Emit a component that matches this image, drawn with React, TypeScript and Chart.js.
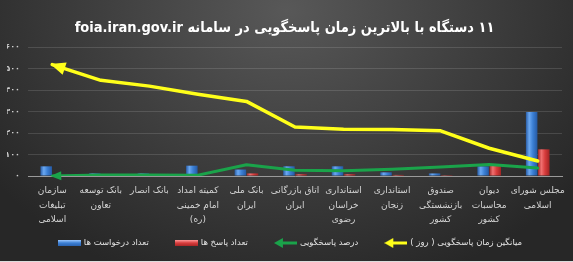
import { useEffect, useRef } from "react";
import { Chart, registerables } from "chart.js";

Chart.register(...registerables);

const FA_DIGITS = "۰۱۲۳۴۵۶۷۸۹";
const toFa = (n: number | string) => String(n).replace(/\d/g, (d) => FA_DIGITS[+d]);

const TITLE = "۱۱ دستگاه با بالاترین زمان پاسخگویی در سامانه foia.iran.gov.ir";

const categories: string[][] = [
  ["سازمان", "تبلیغات", "اسلامی"],
  ["بانک توسعه", "تعاون"],
  ["بانک انصار"],
  ["کمیته امداد", "امام خمینی", "(ره)"],
  ["بانک ملی", "ایران"],
  ["اتاق بازرگانی", "ایران"],
  ["استانداری", "خراسان", "رضوی"],
  ["استانداری", "زنجان"],
  ["صندوق", "بازنشستگی", "کشور"],
  ["دیوان", "محاسبات", "کشور"],
  ["مجلس شورای", "اسلامی"],
];

const requests = [45, 12, 12, 48, 30, 45, 45, 17, 12, 45, 298];
const responses = [0, 0, 0, 0, 12, 8, 8, 5, 4, 48, 124];
const responsePercent = [0, 5, 5, 4, 52, 27, 24, 31, 42, 54, 37];
const avgDays = [518, 445, 418, 380, 347, 228, 218, 216, 210, 129, 70];

const seriesNames = [
  "تعداد درخواست ها",
  "تعداد پاسخ ها",
  "درصد پاسخگویی",
  "میانگین زمان پاسخگویی ( روز )",
];

const yMin = 0;
const yMax = 600;
const yStep = 100;

const BLUE = "#3b7fd4";
const RED = "#d83c3c";
const GREEN = "#1aa34a";
const YELLOW = "#ffff1a";

function barSwatch(light: string, main: string, dark: string) {
  const c = document.createElement("canvas");
  c.width = 23;
  c.height = 6;
  const x = c.getContext("2d")!;
  const g = x.createLinearGradient(0, 0, 0, 6);
  g.addColorStop(0, light);
  g.addColorStop(0.5, main);
  g.addColorStop(1, dark);
  x.fillStyle = g;
  x.fillRect(0, 0, 23, 6);
  return c;
}

function arrowSwatch(color: string) {
  const c = document.createElement("canvas");
  c.width = 23;
  c.height = 10;
  const x = c.getContext("2d")!;
  x.strokeStyle = color;
  x.fillStyle = color;
  x.lineWidth = 3;
  x.beginPath();
  x.moveTo(7, 5);
  x.lineTo(23, 5);
  x.stroke();
  x.beginPath();
  x.moveTo(0, 5);
  x.lineTo(9, 0);
  x.lineTo(9, 10);
  x.closePath();
  x.fill();
  return c;
}

// cylinder-like horizontal gradient for each bar, located via the category scale
function barFill(side: number, light: string, main: string, dark: string) {
  return (c: any) => {
    const chart = c.chart;
    const xs = chart.scales?.x;
    if (!xs || c.dataIndex === undefined || !chart.chartArea) return main;
    const cx = xs.getPixelForValue(c.dataIndex);
    const w = (xs.width / categories.length) * 0.5 * 0.5;
    const x0 = side < 0 ? cx - w : cx;
    const g = chart.ctx.createLinearGradient(x0, 0, x0 + w, 0);
    g.addColorStop(0, dark);
    g.addColorStop(0.3, light);
    g.addColorStop(0.6, main);
    g.addColorStop(1, dark);
    return g;
  };
}

const backgroundPlugin = {
  id: "bg",
  beforeDraw(chart: any) {
    const { ctx, width, height } = chart;
    ctx.save();
    ctx.fillStyle = "#262626";
    ctx.fillRect(0, 0, width, height);
    ctx.translate(width / 2, 10);
    ctx.scale(1.25, 1);
    const g = ctx.createRadialGradient(0, 0, 0, 0, 0, 290);
    g.addColorStop(0, "#585858");
    g.addColorStop(0.45, "#424242");
    g.addColorStop(1, "#272727");
    ctx.fillStyle = g;
    ctx.fillRect(-width, -20, width * 2, height + 40);
    ctx.restore();
    ctx.save();
    ctx.fillStyle = "#dcdcdc";
    ctx.fillRect(0, height - 1, width, 1);
    ctx.restore();
  },
};

const arrowPlugin = {
  id: "arrowHeads",
  afterDatasetsDraw(chart: any) {
    const ctx = chart.ctx;
    chart.data.datasets.forEach((ds: any, i: number) => {
      if (ds.type !== "line") return;
      const meta = chart.getDatasetMeta(i);
      const p0 = meta.data[0];
      const p1 = meta.data[1];
      if (!p0 || !p1) return;
      const ang = Math.atan2(p0.y - p1.y, p0.x - p1.x);
      const L = ds.arrowLen || 12;
      const W = ds.arrowWidth || 12;
      ctx.save();
      ctx.translate(p0.x, p0.y);
      ctx.rotate(ang);
      ctx.fillStyle = ds.borderColor;
      ctx.beginPath();
      ctx.moveTo(2, 0);
      ctx.lineTo(-L, -W / 2);
      ctx.lineTo(-L, W / 2);
      ctx.closePath();
      ctx.fill();
      ctx.restore();
    });
  },
};

function makeLegendPlugin(swatches: HTMLCanvasElement[]) {
  return {
    id: "customLegend",
    afterDraw(chart: any) {
      const ctx = chart.ctx;
      const font = "8.5px 'DejaVu Sans'";
      const swW = 23;
      const gapText = 3;
      const gapItem = 26;
      ctx.save();
      ctx.font = font;
      const items = chart.data.datasets.map((ds: any, i: number) => ({
        text: ds.label as string,
        sw: swatches[i],
        w: swW + gapText + ctx.measureText(ds.label).width,
      }));
      const total =
        items.reduce((a: number, it: any) => a + it.w, 0) + gapItem * (items.length - 1);
      const cx = 290;
      const y = chart.chartArea.bottom + 67;
      let x = cx - total / 2;
      ctx.textBaseline = "middle";
      ctx.textAlign = "left";
      ctx.fillStyle = "#e4e4e4";
      items.forEach((it: any) => {
        ctx.drawImage(it.sw, x, Math.round(y - it.sw.height / 2));
        ctx.fillText(it.text, x + swW + gapText, y);
        x += it.w + gapItem;
      });
      ctx.restore();
    },
  };
}

export default function App() {
  const ref = useRef<HTMLCanvasElement>(null);

  useEffect(() => {
    document.body.style.margin = "0";
    const canvas = ref.current!;
    const swatches = [
      barSwatch("#9cc8ff", BLUE, "#2a62b0"),
      barSwatch("#ff9a9a", RED, "#a82626"),
      arrowSwatch(GREEN),
      arrowSwatch(YELLOW),
    ];

    const chart = new Chart(canvas, {
      type: "bar",
      data: {
        labels: categories,
        datasets: [
          {
            type: "bar",
            label: seriesNames[0],
            data: requests,
            backgroundColor: barFill(-1, "#6aa8f2", BLUE, "#2457a0"),
            categoryPercentage: 0.5,
            barPercentage: 0.95,
            order: 2,
          },
          {
            type: "bar",
            label: seriesNames[1],
            data: responses,
            backgroundColor: barFill(1, "#f07070", RED, "#9c2222"),
            categoryPercentage: 0.5,
            barPercentage: 0.95,
            order: 3,
          },
          {
            type: "line",
            label: seriesNames[2],
            data: responsePercent,
            borderColor: GREEN,
            backgroundColor: GREEN,
            borderWidth: 3,
            pointRadius: 0,
            tension: 0,
            borderCapStyle: "round",
            borderJoinStyle: "round",
            order: 1,
            arrowLen: 9,
            arrowWidth: 9,
          } as any,
          {
            type: "line",
            label: seriesNames[3],
            data: avgDays,
            borderColor: YELLOW,
            backgroundColor: YELLOW,
            borderWidth: 3.5,
            pointRadius: 0,
            tension: 0,
            borderCapStyle: "round",
            borderJoinStyle: "round",
            order: 0,
            arrowLen: 13,
            arrowWidth: 13,
          } as any,
        ],
      },
      options: {
        animation: false,
        responsive: true,
        maintainAspectRatio: false,
        layout: { padding: { left: 7, right: 11, top: 0, bottom: 29 } },
        plugins: {
          title: {
            display: true,
            text: TITLE,
            color: "#ffffff",
            font: { family: "'DejaVu Sans Condensed', 'DejaVu Sans'", size: 14.5, weight: "bold" },
            padding: { top: 20, bottom: 9.6 },
          },
          tooltip: { enabled: false },
          legend: { display: false },
        },
        scales: {
          x: {
            grid: { display: false, drawTicks: false },
            border: { display: true, color: "#9a9a9a", width: 1 },
            ticks: {
              color: "#d4d4d4",
              font: { family: "DejaVu Sans", size: 9, lineHeight: 1.65 },
              maxRotation: 0,
              autoSkip: false,
              padding: 7,
            },
            afterFit: (s: any) => {
              s.height = 57;
            },
          },
          y: {
            min: yMin,
            max: yMax,
            ticks: {
              stepSize: yStep,
              autoSkip: false,
              color: "#cfcfcf",
              font: { family: "DejaVu Sans", size: 8, weight: "bold" },
              padding: 8,
              callback: (v: any) => toFa(v),
            },
            grid: { color: "rgba(255,255,255,0.13)", drawTicks: false },
            border: { display: false },
            afterFit: (s: any) => {
              s.width = 21;
            },
          },
        },
      },
      plugins: [backgroundPlugin, arrowPlugin, makeLegendPlugin(swatches)],
    });
    return () => chart.destroy();
  }, []);

  return (
    <div style={{ width: 573, height: 262, position: "relative" }}>
      <canvas ref={ref} style={{ direction: "rtl" }} />
    </div>
  );
}
